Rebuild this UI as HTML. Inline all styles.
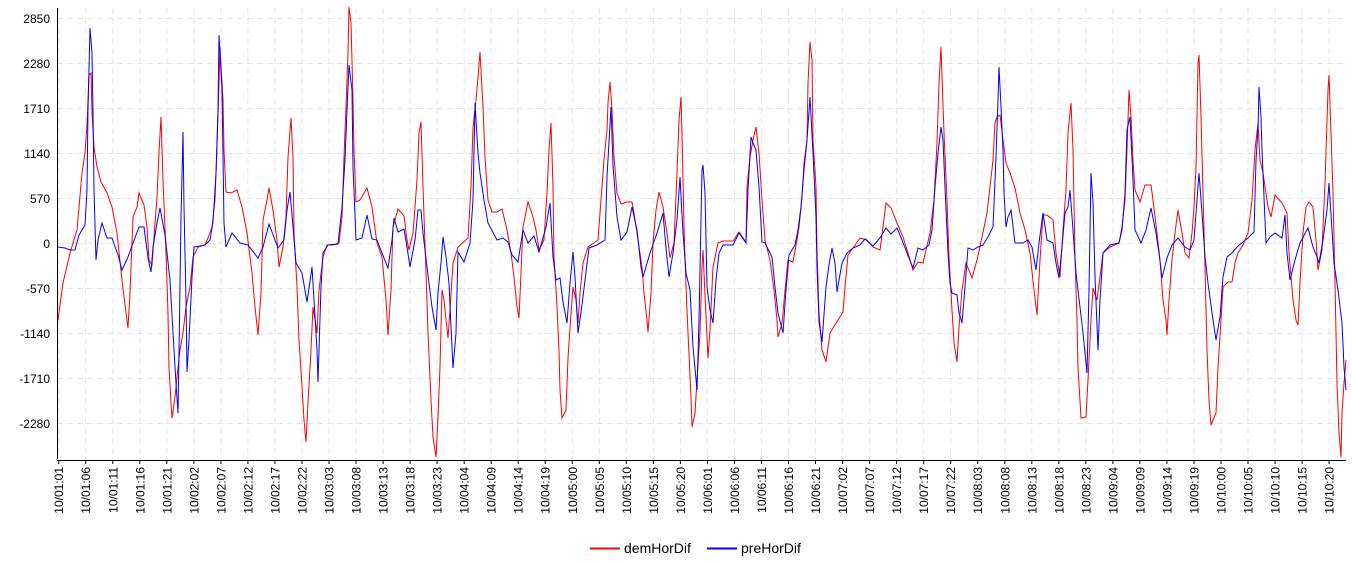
<!DOCTYPE html>
<html><head><meta charset="utf-8"><style>
html,body{margin:0;padding:0;background:#fff;width:1352px;height:565px;overflow:hidden}
svg{display:block;font-family:"Liberation Sans",sans-serif}
</style></head><body>
<svg width="1352" height="565" viewBox="0 0 1352 565">
<g stroke="#e6e6e6" stroke-width="1" stroke-dasharray="6,4">
<line x1="57" x2="1346" y1="18.5" y2="18.5"/><line x1="57" x2="1346" y1="63.5" y2="63.5"/><line x1="57" x2="1346" y1="108.5" y2="108.5"/><line x1="57" x2="1346" y1="153.5" y2="153.5"/><line x1="57" x2="1346" y1="198.5" y2="198.5"/><line x1="57" x2="1346" y1="243.5" y2="243.5"/><line x1="57" x2="1346" y1="288.5" y2="288.5"/><line x1="57" x2="1346" y1="333.5" y2="333.5"/><line x1="57" x2="1346" y1="378.5" y2="378.5"/><line x1="57" x2="1346" y1="423.5" y2="423.5"/>
<line y1="8" y2="459" x1="58.7" x2="58.7"/><line y1="8" y2="459" x1="85.7" x2="85.7"/><line y1="8" y2="459" x1="112.8" x2="112.8"/><line y1="8" y2="459" x1="139.8" x2="139.8"/><line y1="8" y2="459" x1="166.8" x2="166.8"/><line y1="8" y2="459" x1="193.9" x2="193.9"/><line y1="8" y2="459" x1="220.9" x2="220.9"/><line y1="8" y2="459" x1="247.9" x2="247.9"/><line y1="8" y2="459" x1="274.9" x2="274.9"/><line y1="8" y2="459" x1="302.0" x2="302.0"/><line y1="8" y2="459" x1="329.0" x2="329.0"/><line y1="8" y2="459" x1="356.0" x2="356.0"/><line y1="8" y2="459" x1="383.1" x2="383.1"/><line y1="8" y2="459" x1="410.1" x2="410.1"/><line y1="8" y2="459" x1="437.1" x2="437.1"/><line y1="8" y2="459" x1="464.2" x2="464.2"/><line y1="8" y2="459" x1="491.2" x2="491.2"/><line y1="8" y2="459" x1="518.2" x2="518.2"/><line y1="8" y2="459" x1="545.2" x2="545.2"/><line y1="8" y2="459" x1="572.3" x2="572.3"/><line y1="8" y2="459" x1="599.3" x2="599.3"/><line y1="8" y2="459" x1="626.3" x2="626.3"/><line y1="8" y2="459" x1="653.4" x2="653.4"/><line y1="8" y2="459" x1="680.4" x2="680.4"/><line y1="8" y2="459" x1="707.4" x2="707.4"/><line y1="8" y2="459" x1="734.5" x2="734.5"/><line y1="8" y2="459" x1="761.5" x2="761.5"/><line y1="8" y2="459" x1="788.5" x2="788.5"/><line y1="8" y2="459" x1="815.5" x2="815.5"/><line y1="8" y2="459" x1="842.6" x2="842.6"/><line y1="8" y2="459" x1="869.6" x2="869.6"/><line y1="8" y2="459" x1="896.6" x2="896.6"/><line y1="8" y2="459" x1="923.7" x2="923.7"/><line y1="8" y2="459" x1="950.7" x2="950.7"/><line y1="8" y2="459" x1="977.7" x2="977.7"/><line y1="8" y2="459" x1="1004.8" x2="1004.8"/><line y1="8" y2="459" x1="1031.8" x2="1031.8"/><line y1="8" y2="459" x1="1058.8" x2="1058.8"/><line y1="8" y2="459" x1="1085.8" x2="1085.8"/><line y1="8" y2="459" x1="1112.9" x2="1112.9"/><line y1="8" y2="459" x1="1139.9" x2="1139.9"/><line y1="8" y2="459" x1="1166.9" x2="1166.9"/><line y1="8" y2="459" x1="1194.0" x2="1194.0"/><line y1="8" y2="459" x1="1221.0" x2="1221.0"/><line y1="8" y2="459" x1="1248.0" x2="1248.0"/><line y1="8" y2="459" x1="1275.1" x2="1275.1"/><line y1="8" y2="459" x1="1302.1" x2="1302.1"/><line y1="8" y2="459" x1="1329.1" x2="1329.1"/>
</g>
<g fill="#000" font-size="12" text-anchor="end">
<text x="50" y="23">2850</text><text x="50" y="68">2280</text><text x="50" y="113">1710</text><text x="50" y="158">1140</text><text x="50" y="203">570</text><text x="50" y="248">0</text><text x="50" y="293">-570</text><text x="50" y="338">-1140</text><text x="50" y="383">-1710</text><text x="50" y="428">-2280</text>
</g>
<polyline fill="none" stroke="red" stroke-width="1" points="58,320 63,283 70,253 77,230 82,173 85,153 87,125 89,75 91,73 92,113 94,147 97,167 101,182 107,193 112,207 117,233 122,280 126,313 128,328 130,293 133,217 137,207 139,193 144,205 147,227 149,260 152,265 154,237 157,197 159,152 161,117 163,180 166,253 168,313 169,367 171,403 172,418 175,397 177,377 180,350 183,333 186,307 190,287 193,257 198,247 205,245 208,238 212,227 215,200 217,147 219,82 220,47 223,100 224,150 226,192 231,193 237,190 242,207 247,233 252,273 255,307 258,335 261,293 263,220 267,200 269,188 273,210 277,240 279,267 283,247 286,217 288,157 291,118 293,157 294,233 297,287 299,340 302,387 304,420 306,442 308,403 311,350 313,307 317,333 319,290 323,257 327,245 333,245 339,243 342,217 344,157 346,107 348,53 349,7 351,23 353,100 354,150 356,202 360,200 367,188 372,207 377,243 382,257 386,300 388,335 391,290 393,227 398,209 404,216 407,240 409,250 413,233 417,180 419,133 421,122 423,187 426,273 428,333 431,400 433,437 436,457 438,417 440,367 442,290 444,300 446,320 448,338 450,310 453,263 458,247 468,238 471,187 473,127 476,100 478,77 480,52 483,107 485,157 488,200 492,212 497,212 502,209 507,230 511,253 514,277 517,307 519,318 521,273 523,227 528,202 533,217 536,230 539,250 544,240 547,193 549,150 551,123 553,187 554,257 557,307 559,350 560,390 562,418 566,410 568,358 571,313 573,287 576,300 578,323 580,293 583,263 588,247 598,240 601,200 604,160 607,130 608,103 610,82 612,110 614,157 617,193 621,204 627,202 632,202 634,213 638,240 642,267 644,293 647,320 648,332 651,293 653,243 656,210 659,192 663,207 667,233 670,258 674,243 677,173 679,120 681,97 682,133 684,227 686,287 688,333 691,397 692,427 695,413 697,380 700,333 702,267 703,250 706,317 708,358 710,330 713,267 718,243 723,241 733,241 739,232 746,242 747,187 750,157 753,140 756,127 759,153 762,200 765,240 770,260 774,290 777,320 778,337 782,323 786,280 788,260 793,262 797,240 799,227 802,197 804,163 807,140 808,83 810,42 812,60 813,140 816,187 817,250 819,313 822,350 826,362 830,333 833,328 838,320 843,312 845,287 848,255 853,248 860,238 867,240 873,247 880,250 883,227 886,203 891,208 897,223 903,237 908,253 913,270 918,262 923,263 930,233 934,200 937,143 939,83 941,47 942,77 944,133 947,200 949,257 952,310 954,343 957,362 959,327 962,290 966,263 972,278 977,260 982,237 987,213 990,187 993,160 995,123 997,117 1000,115 1003,140 1006,163 1010,173 1015,188 1020,213 1025,230 1030,253 1034,290 1037,315 1040,260 1043,215 1047,215 1053,220 1056,253 1060,277 1063,230 1066,190 1068,133 1071,103 1073,150 1075,257 1077,320 1078,367 1081,418 1086,417 1088,380 1091,320 1093,288 1097,300 1100,277 1103,253 1110,247 1119,243 1122,227 1125,200 1127,150 1129,90 1131,117 1133,160 1135,190 1140,202 1145,185 1151,185 1153,200 1157,233 1160,260 1163,300 1166,320 1167,335 1169,300 1172,260 1175,233 1178,210 1182,233 1185,253 1189,258 1192,233 1194,207 1196,167 1198,63 1199,55 1201,117 1203,193 1205,267 1207,350 1209,400 1211,425 1216,413 1218,367 1221,320 1223,287 1228,282 1232,282 1235,263 1238,253 1243,245 1248,233 1252,200 1255,150 1258,123 1260,160 1263,173 1265,187 1268,207 1271,217 1275,195 1282,203 1287,213 1289,253 1293,300 1296,320 1298,325 1300,283 1303,233 1306,207 1309,202 1313,207 1316,240 1318,270 1322,250 1325,183 1328,90 1329,75 1331,133 1333,193 1335,283 1337,383 1339,433 1341,457 1342,413 1344,383 1346,360"/>
<polyline fill="none" stroke="blue" stroke-width="1" points="58,247 65,248 70,250 75,250 79,235 85,225 87,190 88,110 90,28 92,53 93,113 94,190 96,260 98,240 102,223 107,238 112,238 118,255 122,270 128,257 133,243 139,227 144,227 148,258 151,272 153,247 157,223 160,208 165,235 167,253 170,280 173,333 176,383 178,413 179,353 181,217 183,132 184,207 186,300 187,372 189,340 192,277 194,247 200,246 205,245 210,240 213,222 216,173 218,110 219,35 222,90 223,157 224,223 226,247 232,233 240,243 248,245 258,258 263,247 269,224 275,240 278,248 284,240 287,210 290,192 293,227 296,263 302,273 307,302 312,267 314,300 317,350 318,382 321,287 323,253 328,245 338,244 342,207 345,160 347,110 349,65 352,90 353,167 356,240 362,238 367,215 372,239 377,240 382,253 388,268 392,240 394,218 398,232 404,229 407,247 410,267 415,240 418,210 421,210 423,233 427,267 432,307 436,330 438,293 441,263 443,237 446,257 449,283 451,327 453,368 456,333 458,252 464,262 470,243 473,200 475,103 478,153 480,173 484,200 488,223 497,240 503,238 508,242 512,255 518,262 523,230 528,243 534,236 539,252 546,227 550,203 553,257 556,280 560,278 563,302 567,323 570,283 573,252 575,277 578,333 582,305 586,272 589,248 597,245 605,240 607,177 611,107 613,165 617,217 621,240 627,232 632,207 637,230 641,267 643,277 650,253 657,233 663,213 666,248 669,277 673,253 677,220 680,177 683,233 686,273 690,290 693,347 697,390 699,320 702,170 703,165 705,193 707,287 710,310 713,323 716,280 719,253 723,245 733,245 739,233 746,243 748,190 751,137 753,143 756,150 759,187 762,242 765,243 772,257 775,287 778,313 783,333 786,290 789,255 795,245 798,230 801,207 804,170 807,140 810,97 813,153 816,217 817,267 819,322 822,342 826,287 829,265 832,248 835,263 837,292 842,263 847,253 853,248 860,245 865,239 873,246 880,238 886,228 891,234 897,228 902,240 907,253 913,268 918,248 923,250 929,245 932,230 935,187 938,153 941,127 943,140 945,187 948,253 950,283 952,293 957,295 959,313 962,323 965,287 968,248 973,250 978,247 983,245 988,237 993,227 996,157 998,100 999,67 1001,107 1003,150 1004,193 1006,227 1008,217 1011,210 1015,243 1023,243 1028,240 1032,247 1036,270 1039,243 1043,213 1047,240 1053,243 1056,263 1059,278 1062,247 1065,213 1068,207 1070,190 1073,230 1076,273 1080,307 1083,333 1087,373 1089,290 1091,173 1093,203 1095,277 1098,350 1100,300 1103,253 1110,245 1119,243 1122,230 1125,193 1127,130 1130,117 1133,180 1135,230 1141,243 1146,230 1151,208 1156,233 1159,253 1162,278 1167,258 1172,245 1178,238 1185,247 1190,250 1194,240 1197,200 1199,173 1202,213 1205,257 1208,283 1212,313 1216,340 1220,317 1223,277 1227,257 1232,253 1237,247 1243,242 1248,238 1254,232 1256,160 1258,130 1259,87 1261,117 1262,150 1264,197 1266,243 1270,237 1275,233 1282,238 1285,215 1287,253 1290,280 1295,260 1300,243 1308,228 1313,247 1317,257 1319,263 1323,240 1327,210 1329,183 1332,230 1334,263 1338,290 1342,323 1344,367 1346,390"/>
<g stroke="#000" stroke-width="1">
<line x1="57.5" y1="8" x2="57.5" y2="459"/>
<line x1="57" y1="460.5" x2="1346" y2="460.5"/>
</g>
<g stroke="#000" stroke-width="1">
<path d="M58.7 460v4M85.7 460v4M112.8 460v4M139.8 460v4M166.8 460v4M193.9 460v4M220.9 460v4M247.9 460v4M274.9 460v4M302 460v4M329 460v4M356 460v4M383.1 460v4M410.1 460v4M437.1 460v4M464.2 460v4M491.2 460v4M518.2 460v4M545.2 460v4M572.3 460v4M599.3 460v4M626.3 460v4M653.4 460v4M680.4 460v4M707.4 460v4M734.5 460v4M761.5 460v4M788.5 460v4M815.5 460v4M842.6 460v4M869.6 460v4M896.6 460v4M923.7 460v4M950.7 460v4M977.7 460v4M1004.8 460v4M1031.8 460v4M1058.8 460v4M1085.8 460v4M1112.9 460v4M1139.9 460v4M1166.9 460v4M1194 460v4M1221 460v4M1248 460v4M1275.1 460v4M1302.1 460v4M1329.1 460v4"/>
</g>
<g fill="#000" font-size="12" text-anchor="end">
<text transform="translate(63.2,467) rotate(-90)">10/01:01</text><text transform="translate(90.2,467) rotate(-90)">10/01:06</text><text transform="translate(117.3,467) rotate(-90)">10/01:11</text><text transform="translate(144.3,467) rotate(-90)">10/01:16</text><text transform="translate(171.3,467) rotate(-90)">10/01:21</text><text transform="translate(198.4,467) rotate(-90)">10/02:02</text><text transform="translate(225.4,467) rotate(-90)">10/02:07</text><text transform="translate(252.4,467) rotate(-90)">10/02:12</text><text transform="translate(279.4,467) rotate(-90)">10/02:17</text><text transform="translate(306.5,467) rotate(-90)">10/02:22</text><text transform="translate(333.5,467) rotate(-90)">10/03:03</text><text transform="translate(360.5,467) rotate(-90)">10/03:08</text><text transform="translate(387.6,467) rotate(-90)">10/03:13</text><text transform="translate(414.6,467) rotate(-90)">10/03:18</text><text transform="translate(441.6,467) rotate(-90)">10/03:23</text><text transform="translate(468.7,467) rotate(-90)">10/04:04</text><text transform="translate(495.7,467) rotate(-90)">10/04:09</text><text transform="translate(522.7,467) rotate(-90)">10/04:14</text><text transform="translate(549.7,467) rotate(-90)">10/04:19</text><text transform="translate(576.8,467) rotate(-90)">10/05:00</text><text transform="translate(603.8,467) rotate(-90)">10/05:05</text><text transform="translate(630.8,467) rotate(-90)">10/05:10</text><text transform="translate(657.9,467) rotate(-90)">10/05:15</text><text transform="translate(684.9,467) rotate(-90)">10/05:20</text><text transform="translate(711.9,467) rotate(-90)">10/06:01</text><text transform="translate(739,467) rotate(-90)">10/06:06</text><text transform="translate(766,467) rotate(-90)">10/06:11</text><text transform="translate(793,467) rotate(-90)">10/06:16</text><text transform="translate(820,467) rotate(-90)">10/06:21</text><text transform="translate(847.1,467) rotate(-90)">10/07:02</text><text transform="translate(874.1,467) rotate(-90)">10/07:07</text><text transform="translate(901.1,467) rotate(-90)">10/07:12</text><text transform="translate(928.2,467) rotate(-90)">10/07:17</text><text transform="translate(955.2,467) rotate(-90)">10/07:22</text><text transform="translate(982.2,467) rotate(-90)">10/08:03</text><text transform="translate(1009.3,467) rotate(-90)">10/08:08</text><text transform="translate(1036.3,467) rotate(-90)">10/08:13</text><text transform="translate(1063.3,467) rotate(-90)">10/08:18</text><text transform="translate(1090.3,467) rotate(-90)">10/08:23</text><text transform="translate(1117.4,467) rotate(-90)">10/09:04</text><text transform="translate(1144.4,467) rotate(-90)">10/09:09</text><text transform="translate(1171.4,467) rotate(-90)">10/09:14</text><text transform="translate(1198.5,467) rotate(-90)">10/09:19</text><text transform="translate(1225.5,467) rotate(-90)">10/10:00</text><text transform="translate(1252.5,467) rotate(-90)">10/10:05</text><text transform="translate(1279.6,467) rotate(-90)">10/10:10</text><text transform="translate(1306.6,467) rotate(-90)">10/10:15</text><text transform="translate(1333.6,467) rotate(-90)">10/10:20</text>
</g>
<line x1="590" y1="548.5" x2="620" y2="548.5" stroke="red" stroke-width="2"/>
<text x="624" y="553" font-size="14" fill="#000">demHorDif</text>
<line x1="707" y1="548.5" x2="737" y2="548.5" stroke="blue" stroke-width="2"/>
<text x="741" y="553" font-size="14" fill="#000">preHorDif</text>
</svg>
</body></html>
